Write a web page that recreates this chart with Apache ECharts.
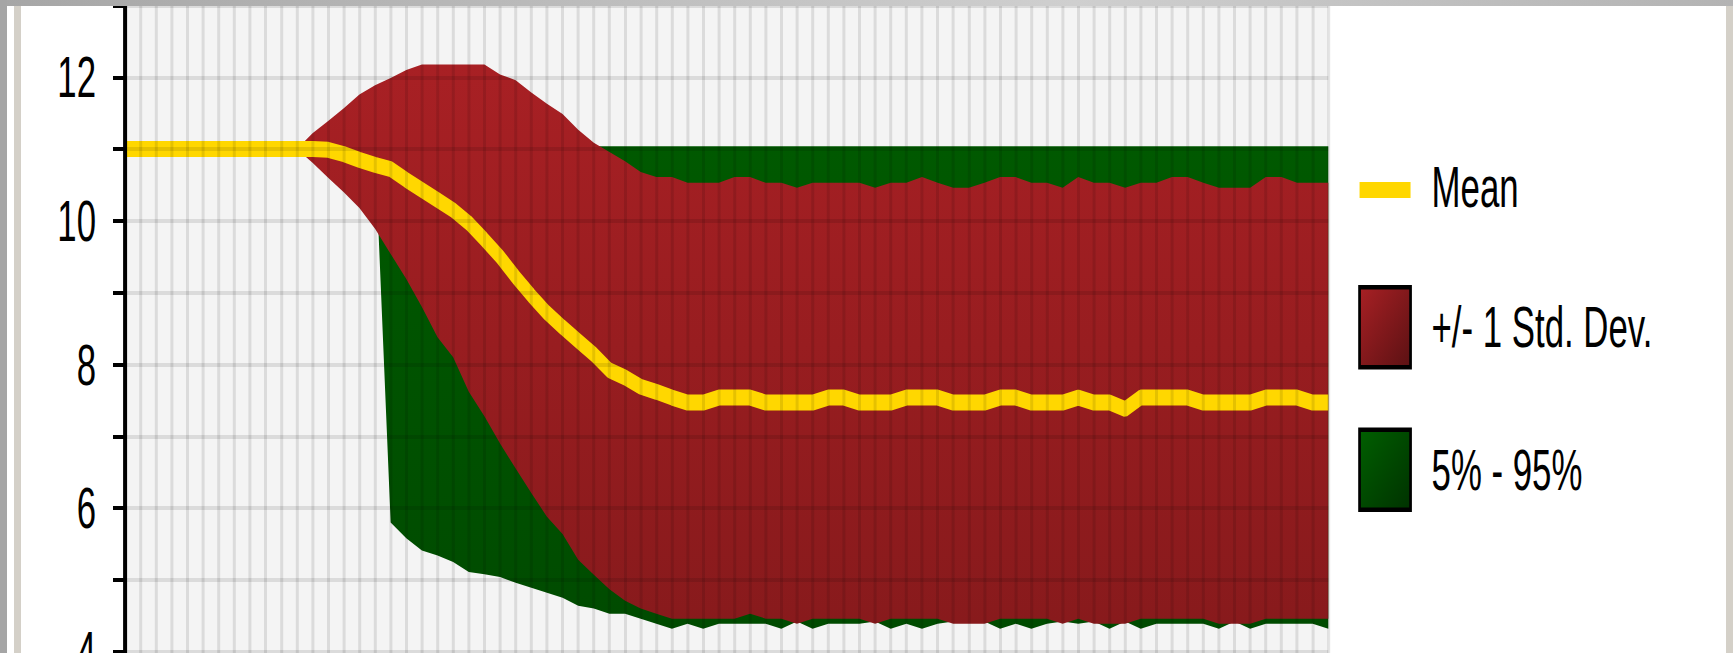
<!DOCTYPE html>
<html>
<head>
<meta charset="utf-8">
<title>Summary trend</title>
<script src="https://cdn.jsdelivr.net/npm/echarts@6/dist/echarts.min.js"></script>
<style>
  html, body { margin: 0; padding: 0; background: #fff; }
  body { position: relative; width: 1733px; height: 653px; overflow: hidden; }
  /* the chart is laid out wide and squeezed back along x, the lettering in the original is very narrow */
  #chart { position: absolute; left: 0; top: 0; width: 2888px; height: 653px; transform: scaleX(0.6); transform-origin: 0 0; }
  .edge { position: absolute; z-index: 2; }
  #edgeTop { left: 0; top: 0; width: 1733px; height: 6px; background: linear-gradient(to right, #a6a6a6, #cfcfcf 62%, #b3b3b3); }
  #edgeLeft { left: 0; top: 0; width: 7px; height: 653px; background: #a5a5a5; }
  #edgeLeft2 { left: 14px; top: 6px; width: 7px; height: 647px; background: #d4d0c8; }
  #edgeRight { left: 1726px; top: 6px; width: 7px; height: 647px; background: #d4d0c8; }
</style>
</head>
<body>
<div id="chart"></div>
<div class="edge" id="edgeTop"></div>
<div class="edge" id="edgeLeft"></div>
<div class="edge" id="edgeLeft2"></div>
<div class="edge" id="edgeRight"></div>
<script>
// periods along x (labels are outside the visible crop)
const periods = [1, 2, 3, 4, 5, 6, 7, 8, 9, 10, 11, 12, 13, 14, 15, 16, 17, 18, 19, 20,
  21, 22, 23, 24, 25, 26, 27, 28, 29, 30, 31, 32, 33, 34, 35, 36, 37, 38, 39, 40,
  41, 42, 43, 44, 45, 46, 47, 48, 49, 50, 51, 52, 53, 54, 55, 56, 57, 58, 59, 60,
  61, 62, 63, 64, 65, 66, 67, 68, 69, 70, 71, 72, 73, 74, 75, 76, 77, 78];

const mean = [
  11, 11, 11, 11, 11, 11, 11, 11, 11, 11, 11, 11, 11,
  10.99, 10.93, 10.85, 10.78, 10.72, 10.57, 10.43, 10.29, 10.15, 9.97, 9.74, 9.50, 9.22,
  8.96, 8.72, 8.52, 8.33, 8.14, 7.92, 7.82, 7.69, 7.62, 7.54, 7.47, 7.47, 7.54,
  7.54, 7.54, 7.47, 7.47, 7.47, 7.47, 7.54, 7.54, 7.47, 7.47, 7.47, 7.54, 7.54,
  7.54, 7.47, 7.47, 7.47, 7.54, 7.54, 7.47, 7.47, 7.47, 7.54, 7.47, 7.47, 7.38,
  7.54, 7.54, 7.54, 7.54, 7.47, 7.47, 7.47, 7.47, 7.54, 7.54, 7.54, 7.47, 7.47
];

// mean + 1 std. dev.
const stdHigh = [
  11, 11, 11, 11, 11, 11, 11, 11, 11, 11, 11, 11, 11.22,
  11.39, 11.57, 11.76, 11.89, 11.99, 12.10, 12.18, 12.18, 12.18, 12.18, 12.18, 12.04, 11.96,
  11.79, 11.63, 11.49, 11.27, 11.09, 10.96, 10.83, 10.68, 10.61, 10.61, 10.53, 10.53, 10.53,
  10.61, 10.61, 10.53, 10.53, 10.46, 10.53, 10.53, 10.53, 10.53, 10.46, 10.53, 10.53, 10.61,
  10.53, 10.46, 10.46, 10.53, 10.61, 10.61, 10.53, 10.53, 10.46, 10.61, 10.53, 10.53, 10.46,
  10.53, 10.53, 10.61, 10.61, 10.53, 10.46, 10.46, 10.46, 10.61, 10.61, 10.53, 10.53, 10.53
];

// mean - 1 std. dev.
const stdLow = [
  11, 11, 11, 11, 11, 11, 11, 11, 11, 11, 11, 11, 10.81,
  10.60, 10.40, 10.18, 9.89, 9.54, 9.19, 8.80, 8.38, 8.10, 7.62, 7.28, 6.90, 6.55,
  6.21, 5.88, 5.64, 5.28, 5.07, 4.87, 4.71, 4.60, 4.53, 4.46, 4.46, 4.46, 4.46,
  4.46, 4.53, 4.46, 4.46, 4.39, 4.46, 4.46, 4.46, 4.46, 4.39, 4.46, 4.46, 4.46,
  4.46, 4.39, 4.39, 4.39, 4.46, 4.46, 4.46, 4.46, 4.39, 4.46, 4.39, 4.39, 4.39,
  4.46, 4.46, 4.46, 4.46, 4.46, 4.39, 4.39, 4.39, 4.46, 4.46, 4.46, 4.46, 4.46
];

const pct5 = [
  11, 11, 11, 11, 11, 11, 11, 11, 11, 11, 11, 11, 11,
  11, 11, 11, 11, 5.80, 5.58, 5.41, 5.34, 5.25, 5.11, 5.08, 5.04, 4.96,
  4.89, 4.82, 4.75, 4.64, 4.60, 4.53, 4.53, 4.46, 4.39, 4.32, 4.39, 4.32, 4.39,
  4.39, 4.39, 4.39, 4.32, 4.42, 4.32, 4.39, 4.39, 4.39, 4.42, 4.32, 4.39, 4.32,
  4.39, 4.42, 4.42, 4.42, 4.32, 4.39, 4.32, 4.39, 4.42, 4.39, 4.42, 4.32, 4.42,
  4.32, 4.39, 4.39, 4.39, 4.39, 4.32, 4.42, 4.32, 4.39, 4.39, 4.39, 4.39, 4.32
];

const pct95 = [
  11, 11, 11, 11, 11, 11, 11, 11, 11, 11, 11, 11, 11.04,
  11.04, 11.04, 11.04, 11.04, 11.04, 11.04, 11.04, 11.04, 11.04, 11.04, 11.04, 11.04, 11.04,
  11.04, 11.04, 11.04, 11.04, 11.04, 11.04, 11.04, 11.04, 11.04, 11.04, 11.04, 11.04, 11.04,
  11.04, 11.04, 11.04, 11.04, 11.04, 11.04, 11.04, 11.04, 11.04, 11.04, 11.04, 11.04, 11.04,
  11.04, 11.04, 11.04, 11.04, 11.04, 11.04, 11.04, 11.04, 11.04, 11.04, 11.04, 11.04, 11.04,
  11.04, 11.04, 11.04, 11.04, 11.04, 11.04, 11.04, 11.04, 11.04, 11.04, 11.04, 11.04, 11.04
];

const SQ = 0.6;            // same as the css scaleX
const sx = v => v / SQ;    // screen px -> layout px along x
const FONT = '"Liberation Sans", Arial, sans-serif';

// stacked bands: base line + band height
const pctBand = pct95.map((v, i) => +(v - pct5[i]).toFixed(2));
const sdBand = stdHigh.map((v, i) => +(v - stdLow[i]).toFixed(2));

const G = echarts.graphic;
const redFill = new G.LinearGradient(0, 0, 0, 1, [
  { offset: 0, color: '#a82024' }, { offset: 1, color: '#881a1c' }
]);
const greenFill = new G.LinearGradient(0, 0, 0, 1, [
  { offset: 0, color: '#005900' }, { offset: 1, color: '#004b00' }
]);
const redIcon = new G.LinearGradient(0, 0, 1, 1, [
  { offset: 0, color: '#a82024' }, { offset: 1, color: '#5b1113' }
]);
const greenIcon = new G.LinearGradient(0, 0, 1, 1, [
  { offset: 0, color: '#005f00' }, { offset: 1, color: '#003200' }
]);

const chart = echarts.init(document.getElementById('chart'), null, { renderer: 'svg' });

const hidden = { width: 0, opacity: 0 };

chart.setOption({
  animation: false,
  grid: {
    left: sx(125), right: 2888 - sx(1328.3), top: 5.5, bottom: -70.5,
    show: true, backgroundColor: '#f4f4f4', borderWidth: 0,
    outerBoundsMode: 'none'
  },
  legend: {
    orient: 'vertical',
    left: sx(1357) + 2, top: 147,
    padding: 0,
    itemWidth: 85, itemHeight: 80, itemGap: 58,
    selectedMode: false,
    textStyle: { fontFamily: FONT, fontSize: 58, color: '#000', padding: [0, 0, 0, 30] },
    data: [
      { name: 'Mean', icon: 'path://M0,0M0,35L85,35L85,51L0,51ZM85,80',
        itemStyle: { color: '#ffd700', borderWidth: 0 } },
      { name: '+/- 1 Std. Dev.', icon: 'rect',
        itemStyle: { color: redIcon, borderColor: '#000', borderWidth: 4.5 } },
      { name: '5% - 95%', icon: 'rect',
        itemStyle: { color: greenIcon, borderColor: '#000', borderWidth: 4.5 } }
    ]
  },
  xAxis: {
    type: 'category',
    data: periods,
    boundaryGap: false,
    z: 5,
    axisLine: { show: false },
    axisTick: { show: false },
    axisLabel: { show: false },
    splitLine: { show: true, interval: 0, lineStyle: { color: 'rgba(0,0,0,0.1)', width: sx(3) } }
  },
  yAxis: {
    type: 'value',
    min: 3, max: 13, interval: 1,
    z: 5,
    axisLine: { show: true, lineStyle: { color: '#000', width: sx(4) } },
    axisTick: { show: true, length: sx(12), lineStyle: { color: '#000', width: 4 } },
    axisLabel: {
      margin: sx(29), color: '#000', fontFamily: FONT, fontSize: 58,
      formatter: v => (v % 2 === 0 ? String(v) : '')
    },
    splitLine: { show: true, lineStyle: { color: 'rgba(0,0,0,0.1)', width: 4 } }
  },
  series: [
    { name: 'p5', type: 'line', stack: 'pct', data: pct5, symbol: 'none',
      lineStyle: hidden, silent: true, emphasis: { disabled: true } },
    { name: '5% - 95%', type: 'line', stack: 'pct', data: pctBand, symbol: 'none',
      lineStyle: hidden, areaStyle: { color: greenFill, opacity: 1 },
      itemStyle: { color: '#005900' }, silent: true, emphasis: { disabled: true } },
    { name: 'sdLow', type: 'line', stack: 'sd', data: stdLow, symbol: 'none',
      lineStyle: hidden, silent: true, emphasis: { disabled: true } },
    { name: '+/- 1 Std. Dev.', type: 'line', stack: 'sd', data: sdBand, symbol: 'none',
      lineStyle: hidden, areaStyle: { color: redFill, opacity: 1 },
      itemStyle: { color: '#a82024' }, silent: true, emphasis: { disabled: true } },
    { name: 'Mean', type: 'line', data: mean, symbol: 'none',
      lineStyle: { color: '#ffd700', width: 16 }, itemStyle: { color: '#ffd700' },
      silent: true, emphasis: { disabled: true } }
  ]
});
</script>
</body>
</html>
